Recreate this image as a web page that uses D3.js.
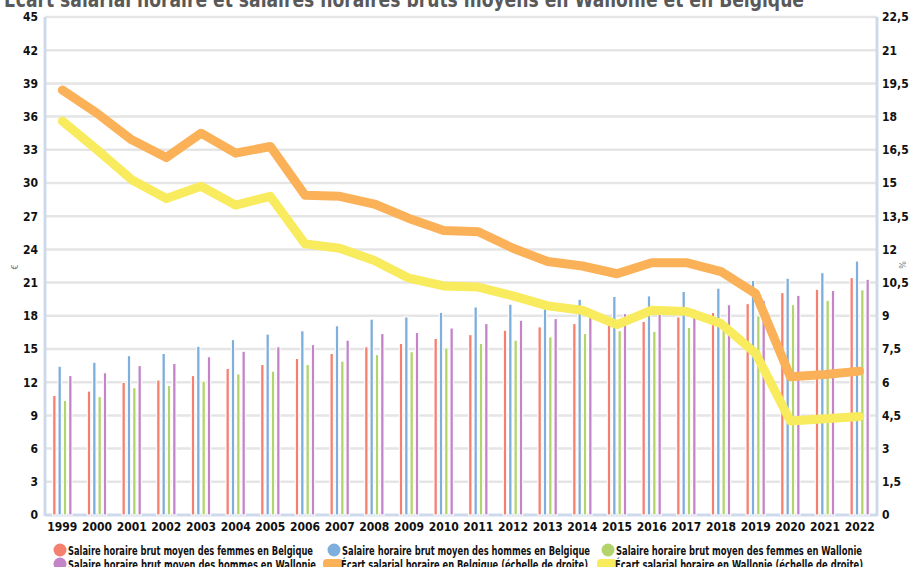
<!DOCTYPE html>
<html>
<head>
<meta charset="utf-8">
<script src="https://cdn.jsdelivr.net/npm/d3@7"></script>
<style>
  body { margin: 0; background: #fff; }
  svg text { font-family: "Liberation Sans Narrow", "DejaVu Sans Condensed", "Roboto Condensed", sans-serif; font-weight: bold; }
</style>
</head>
<body>
<div id="chart"></div>
<script>
const years = ["1999","2000","2001","2002","2003","2004","2005","2006","2007","2008","2009","2010",
               "2011","2012","2013","2014","2015","2016","2017","2018","2019","2020","2021","2022"];

// salaires horaires bruts moyens (€)
const femmesBelgique  = [10.8,11.2,12.0,12.2,12.6,13.25,13.6,14.15,14.6,15.2,15.5,15.95,16.3,16.7,17.0,17.3,17.4,17.5,17.9,18.3,19.1,20.1,20.4,21.45];
const hommesBelgique  = [13.45,13.8,14.4,14.6,15.25,15.85,16.35,16.65,17.1,17.7,17.9,18.3,18.8,19.05,19.25,19.5,19.75,19.8,20.2,20.5,21.2,21.4,21.9,22.95];
const femmesWallonie  = [10.35,10.7,11.5,11.7,12.1,12.75,13.0,13.6,13.9,14.5,14.75,15.1,15.5,15.8,16.1,16.4,16.65,16.6,16.95,17.4,18.0,19.0,19.4,20.35];
const hommesWallonie  = [12.6,12.85,13.5,13.7,14.3,14.8,15.2,15.4,15.8,16.4,16.5,16.9,17.3,17.6,17.75,17.9,18.2,18.4,18.6,19.0,19.4,19.85,20.3,21.3];

// écart salarial horaire (%), échelle de droite
const ecartBelgique   = [19.2,18.15,16.95,16.15,17.25,16.35,16.65,14.45,14.4,14.05,13.4,12.85,12.8,12.05,11.45,11.25,10.9,11.4,11.4,11.0,10.0,6.25,6.35,6.5];
const ecartWallonie   = [17.8,16.5,15.15,14.3,14.85,14.0,14.4,12.25,12.05,11.5,10.7,10.35,10.3,9.9,9.45,9.25,8.6,9.25,9.2,8.65,7.3,4.25,4.35,4.45];

const leftTicks  = d3.range(0, 46, 3);
const rightTicks = d3.range(0, 22.6, 1.5);

const barSeries = [
  { name: "Salaire horaire brut moyen des femmes en Belgique", values: femmesBelgique, color: "#f4816f" },
  { name: "Salaire horaire brut moyen des hommes en Belgique", values: hommesBelgique, color: "#7eaedb" },
  { name: "Salaire horaire brut moyen des femmes en Wallonie", values: femmesWallonie, color: "#b3d46c" },
  { name: "Salaire horaire brut moyen des hommes en Wallonie", values: hommesWallonie, color: "#c385c7" }
];
const lineSeries = [
  { name: "Écart salarial horaire en Belgique (échelle de droite)", values: ecartBelgique, color: "#fbb158" },
  { name: "Écart salarial horaire en Wallonie (échelle de droite)", values: ecartWallonie, color: "#f9eb5e" }
];

const W = 916, H = 567;
const plot = { left: 45, right: 877, top: 17, bottom: 515 };

const svg = d3.select("#chart").append("svg")
  .attr("width", W).attr("height", H);

const x0 = d3.scaleBand().domain(years)
  .range([plot.left, plot.right])
  .paddingInner(0.385).paddingOuter(0.1925);
const x1 = d3.scaleBand().domain(d3.range(barSeries.length))
  .range([0, x0.bandwidth()]);

const yL = d3.scaleLinear().domain([0, 45]).range([plot.bottom, plot.top]);
const yR = d3.scaleLinear().domain([0, 22.5]).range([plot.bottom, plot.top]);

// titre (coupé en haut comme dans l'original)
svg.append("text")
  .attr("x", 4).attr("y", 7)
  .attr("textLength", 800).attr("lengthAdjust", "spacingAndGlyphs")
  .style("font-size", "21px")
  .style("fill", "#595959")
  .text("Écart salarial horaire et salaires horaires bruts moyens en Wallonie et en Belgique");

// grille
svg.append("g")
  .selectAll("line")
  .data(leftTicks.filter(d => d > 0))
  .enter().append("line")
  .attr("x1", plot.left).attr("x2", plot.right)
  .attr("y1", d => yL(d)).attr("y2", d => yL(d))
  .attr("stroke", "#e5e5e5").attr("stroke-width", 2.5);

// axe du bas
svg.append("line")
  .attr("x1", plot.left).attr("x2", plot.right)
  .attr("y1", plot.bottom).attr("y2", plot.bottom)
  .attr("stroke", "#cfd9ec").attr("stroke-width", 3);

// barres
const groups = svg.append("g").selectAll("g")
  .data(years)
  .enter().append("g")
  .attr("transform", d => `translate(${x0(d)},0)`);

groups.selectAll("rect")
  .data((yr, i) => barSeries.map((s, k) => ({ k: k, v: s.values[i], color: s.color })))
  .enter().append("rect")
  .attr("x", d => x1(d.k) + (x1.bandwidth() - 3.4) / 2)
  .attr("y", d => yL(d.v))
  .attr("width", 3.4)
  .attr("height", d => yL(0) - yL(d.v))
  .attr("fill", d => d.color)
  .attr("stroke", "#fff")
  .attr("stroke-width", 1.1);

// axes verticaux
[plot.left, plot.right].forEach(xx => {
  svg.append("line")
    .attr("x1", xx).attr("x2", xx)
    .attr("y1", plot.top).attr("y2", plot.bottom + 1)
    .attr("stroke", "#cfd9ec").attr("stroke-width", 3);
});

// courbes
const line = d3.line()
  .x((d, i) => x0(years[i]) + x0.bandwidth() / 2)
  .y(d => yR(d));

lineSeries.forEach(s => {
  svg.append("path")
    .datum(s.values)
    .attr("d", line)
    .attr("fill", "none")
    .attr("stroke", s.color)
    .attr("stroke-width", 9)
    .attr("stroke-linejoin", "round")
    .attr("stroke-linecap", "round");
});

// graduations
const axisL = svg.append("g")
  .attr("transform", `translate(${plot.left - 4},0)`)
  .call(d3.axisLeft(yL).tickValues(leftTicks).tickSize(0).tickPadding(3).tickFormat(d3.format("d")));
axisL.select(".domain").remove();

const commaFmt = d => String(d).replace(".", ",");
const axisR = svg.append("g")
  .attr("transform", `translate(${plot.right + 2},0)`)
  .call(d3.axisRight(yR).tickValues(rightTicks).tickSize(0).tickPadding(3).tickFormat(commaFmt));
axisR.select(".domain").remove();

const axisB = svg.append("g")
  .attr("transform", `translate(0,${plot.bottom + 2})`)
  .call(d3.axisBottom(x0).tickSize(0).tickPadding(5));
axisB.select(".domain").remove();

svg.selectAll(".tick text")
  .style("font-size", "12px")
  .style("fill", "#111")
  .style("font-family", null);

// titres d'axes
svg.append("text")
  .attr("transform", "translate(18,267) rotate(-90)")
  .attr("text-anchor", "middle")
  .style("font-size", "9px").style("fill", "#777").style("font-weight", "normal")
  .text("€");
svg.append("text")
  .attr("transform", "translate(906,265) rotate(-90)")
  .attr("text-anchor", "middle")
  .style("font-size", "9px").style("fill", "#777").style("font-weight", "normal")
  .text("%");

// légende
const legendItems = [
  { s: barSeries[0], type: "dot", x: 60, y: 550, w: 245 },
  { s: barSeries[1], type: "dot", x: 334, y: 550, w: 248 },
  { s: barSeries[2], type: "dot", x: 608, y: 550, w: 246 },
  { s: barSeries[3], type: "dot", x: 60, y: 564, w: 248 },
  { s: lineSeries[0], type: "rect", x: 333, y: 564, w: 247 },
  { s: lineSeries[1], type: "rect", x: 607, y: 564, w: 248 }
];

const legend = svg.append("g");
legendItems.forEach(it => {
  if (it.type === "dot") {
    legend.append("circle")
      .attr("cx", it.x).attr("cy", it.y).attr("r", 6.5)
      .attr("fill", it.s.color);
  } else {
    legend.append("rect")
      .attr("x", it.x - 10).attr("y", it.y - 5)
      .attr("width", 20).attr("height", 10).attr("rx", 4)
      .attr("fill", it.s.color);
  }
  legend.append("text")
    .attr("x", it.x + 8).attr("y", it.y + 4.5)
    .attr("textLength", it.w).attr("lengthAdjust", "spacingAndGlyphs")
    .style("font-size", "12.5px")
    .style("fill", "#111")
    .text(it.s.name);
});
</script>
</body>
</html>
